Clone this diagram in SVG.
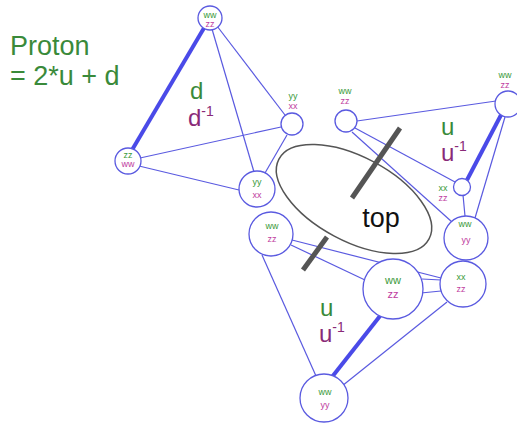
<svg xmlns="http://www.w3.org/2000/svg" width="517" height="426" viewBox="0 0 517 426">
<style>
text{font-family:"Liberation Sans",Arial,sans-serif}
.n{fill:#fff;stroke:#5a5ae0;stroke-width:1.3}
.c{stroke:#5a5ae0;stroke-width:1.2;fill:none}
.t{stroke:#4a4ae8;stroke-width:4;fill:none}
.g{fill:#3a9a3a;text-anchor:middle}
.m{fill:#c03ca0;text-anchor:middle}
.s{font-size:9px}
.lg{fill:#3a8a3a;font-size:24px}
.lp{fill:#8a2a78;font-size:24px}
.bar{stroke:#555;stroke-width:5}
</style>
<rect width="517" height="426" fill="#fff"/>
<text x="10" y="55" class="lg" style="font-size:27px">Proton</text>
<text x="10" y="85" class="lg" style="font-size:27px">= 2*u + d</text>
<g id="connectors">
<line class="t" x1="204" y1="28" x2="132" y2="150"/>
<line class="c" x1="217" y1="26" x2="285" y2="115"/>
<line class="c" x1="212" y1="29" x2="254" y2="172"/>
<line class="c" x1="140" y1="158" x2="281" y2="127"/>
<line class="c" x1="139" y1="166" x2="239" y2="190"/>
<line class="c" x1="265" y1="173" x2="287" y2="135"/>
<line class="c" x1="357" y1="121" x2="496" y2="101"/>
<line class="c" x1="355" y1="128" x2="455" y2="182"/>
<line class="c" x1="352" y1="132" x2="452" y2="222"/>
<line class="t" x1="501" y1="115" x2="467" y2="180"/>
<line class="c" x1="505" y1="117" x2="475" y2="218"/>
<line class="c" x1="463" y1="195" x2="465" y2="216"/>
<line class="c" x1="292" y1="240" x2="441" y2="278"/>
<line class="c" x1="291" y1="245" x2="365" y2="280"/>
<line class="c" x1="422" y1="279" x2="441" y2="280"/>
<line class="c" x1="421" y1="293" x2="441" y2="291"/>
<line class="t" x1="380" y1="316" x2="332" y2="377"/>
<line class="c" x1="262" y1="255" x2="316" y2="376"/>
<line class="c" x1="447" y1="302" x2="342" y2="386"/>
</g>
<g id="top">
<ellipse cx="354" cy="199" rx="85" ry="42" transform="rotate(28 354 199)" fill="#fff" stroke="#555" stroke-width="1.5"/>
<text x="381" y="227" font-size="27" fill="#111" text-anchor="middle">top</text>
<line class="bar" x1="400" y1="128" x2="352" y2="198"/>
<line class="bar" x1="327" y1="237" x2="303" y2="270"/>
</g>
<g id="n1"><circle class="n" cx="210" cy="18" r="12"/><text class="g s" x="210" y="18">ww</text><text class="m s" x="210" y="27">zz</text></g>
<g id="n2"><circle class="n" cx="128" cy="161" r="13"/><text class="g s" x="128" y="158">zz</text><text class="m s" x="128" y="167">ww</text></g>
<g id="n3"><circle class="n" cx="292" cy="124" r="11"/><text class="g s" x="293" y="99">yy</text><text class="m s" x="293" y="109">xx</text></g>
<g id="n4"><circle class="n" cx="257" cy="189" r="18"/><text class="g s" x="257" y="185">yy</text><text class="m s" x="257" y="198">xx</text></g>
<g id="n5"><circle class="n" cx="271" cy="234" r="22"/><text class="g s" x="272" y="229">ww</text><text class="m s" x="272" y="242">zz</text></g>
<g id="n6"><circle class="n" cx="346" cy="121" r="11"/><text class="g s" x="345" y="94">ww</text><text class="m s" x="345" y="104">zz</text></g>
<g id="n7"><circle class="n" cx="508" cy="104" r="13"/><text class="g s" x="505" y="78">ww</text><text class="m s" x="505" y="88">zz</text></g>
<g id="n8"><circle class="n" cx="462" cy="187" r="8.5"/><text class="g s" x="443" y="191">xx</text><text class="m s" x="443" y="201">zz</text></g>
<g id="n9"><circle class="n" cx="466" cy="238" r="22"/><text class="g s" x="465" y="227">ww</text><text class="m s" x="466" y="243">yy</text></g>
<g id="n10"><circle class="n" cx="463" cy="284" r="23"/><text class="g s" x="461" y="280">xx</text><text class="m s" x="461" y="292">zz</text></g>
<g id="n11"><circle class="n" cx="393" cy="289" r="30"/><text class="g" x="393" y="284" font-size="11">ww</text><text class="m" x="393" y="298" font-size="11">zz</text></g>
<g id="n12"><circle class="n" cx="324" cy="398" r="24"/><text class="g s" x="325" y="395">ww</text><text class="m s" x="325" y="408">yy</text></g>
<g id="labels">
<text class="lg" x="190" y="99">d</text>
<text class="lp" x="188" y="126">d<tspan font-size="14" dy="-10">-1</tspan></text>
<text class="lg" x="441" y="135">u</text>
<text class="lp" x="441" y="161">u<tspan font-size="14" dy="-10">-1</tspan></text>
<text class="lg" x="320" y="316">u</text>
<text class="lp" x="319" y="342">u<tspan font-size="14" dy="-10">-1</tspan></text>
</g>
</svg>
